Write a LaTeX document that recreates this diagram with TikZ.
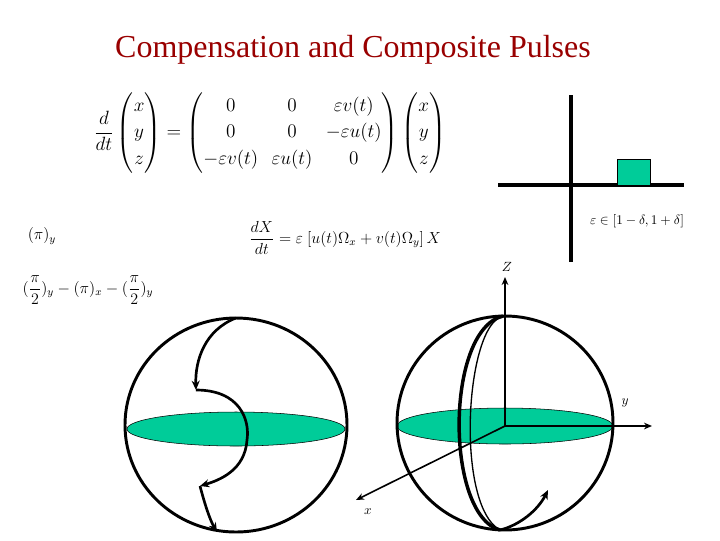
\documentclass[tikz,border=0pt]{standalone}
\usepackage{amsmath}
\usepackage{fontspec}
\setmainfont{Liberation Serif}
\usetikzlibrary{arrows.meta}
\definecolor{sgreen}{RGB}{0,204,153}
\definecolor{tred}{RGB}{153,0,0}
\begin{document}
\begin{tikzpicture}[x=0.75pt,y=-0.75pt,
  thk/.style={line width=2.2pt},
  arr/.style={line width=2pt,-{Stealth[length=7pt,width=6pt]}},
  ax/.style={line width=1.2pt,-{Stealth[length=6pt,width=5pt]}},
  eq/.style={font=\large}]
\useasboundingbox (0,0) rectangle (720,540);
\node[tred,font=\fontsize{24}{28}\selectfont] (title) at (353,50) {Compensation and Composite Pulses};
\node[font=\Large] (mat) at (270,133) {$\displaystyle \frac{d}{dt}\begin{pmatrix}x\\[2pt] y\\[2pt] z\end{pmatrix}=\begin{pmatrix}0&0&\varepsilon v(t)\\[2pt] 0&0&-\varepsilon u(t)\\[2pt] -\varepsilon v(t)&\varepsilon u(t)&0\end{pmatrix}\begin{pmatrix}x\\[2pt] y\\[2pt] z\end{pmatrix}$};
\node[eq] (e1) at (42,236) {$(\pi)_y$};
\node[eq] (e2) at (345,238) {$\displaystyle\frac{dX}{dt}=\varepsilon\ [u(t)\Omega_x+v(t)\Omega_y]\,X$};
\node[eq] (e3) at (88,290) {$\displaystyle(\frac{\pi}{2})_y-(\pi)_x-(\frac{\pi}{2})_y$};
% pulse graph
\draw[line width=2.5pt] (571,95) -- (571,262);
\draw[line width=2.5pt] (498,185) -- (684,185);
\draw[fill=sgreen] (617,159) rectangle (650,185);
\node (eps) at (637,221) {$\varepsilon\in[1-\delta,1+\delta]$};
% left sphere
\fill[sgreen] (236,429) ellipse [x radius=109, y radius=17];
\draw[thin] (236,429) ellipse [x radius=109, y radius=17];
\draw[thk] (236,425) ellipse [x radius=111, y radius=107];
\coordinate (t1) at (236,318);
\coordinate (a1) at (196,390);
\coordinate (a2) at (200,486);
\coordinate (b1) at (217,532);
\draw[arr] (t1) .. controls (205,330) and (195,360) .. (a1);
\draw[arr] (a1) .. controls (240,390) and (250,420) .. (247,440) .. controls (245,470) and (220,480) .. (a2);
\draw[arr] (a2) .. controls (205,505) and (210,520) .. (b1);
% right sphere
\fill[sgreen] (505,426) ellipse [x radius=108, y radius=18];
\draw[thin] (505,426) ellipse [x radius=108, y radius=18];
\draw[thk] (505,423) ellipse [x radius=108, y radius=107];
\coordinate (o) at (505,426);
\coordinate (zt) at (505,277);
\coordinate (yt) at (652,426);
\coordinate (xt) at (356,500);
\draw[ax] (o) -- (zt);
\draw[ax] (o) -- (yt);
\draw[ax] (o) -- (xt);
\node (zl) at (507,267) {$Z$};
\node (yl) at (625,403) {$y$};
\node (xl) at (368,512) {$x$};
\coordinate (mt) at (503,316);
\coordinate (mb) at (500,530);
\draw[line width=2.6pt] (mt) .. controls (445,330) and (445,515) .. (mb);
\draw[line width=1pt] (mt) .. controls (465,325) and (455,505) .. (mb);
\coordinate (ce) at (548,490);
\draw[arr] (mb) .. controls (520,525) and (538,510) .. (ce);
\end{tikzpicture}
\end{document}
